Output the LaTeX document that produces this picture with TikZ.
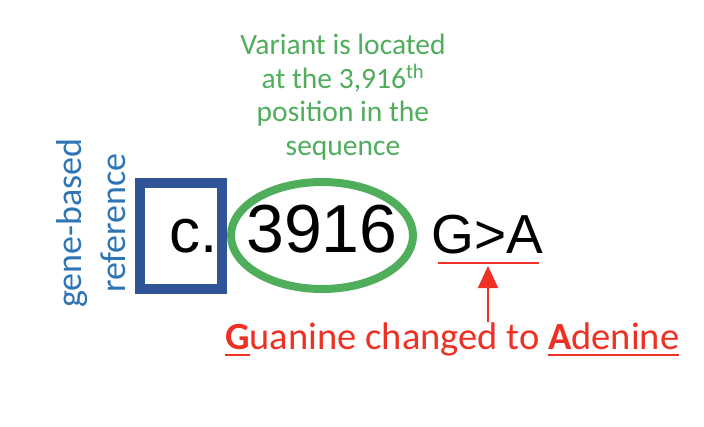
\documentclass[tikz,border=0pt]{standalone}
\usepackage{fontspec}
\setmainfont{Carlito}
\newfontfamily\arialf{Liberation Sans}
\usetikzlibrary{arrows.meta,shapes.geometric}
\definecolor{vgreen}{HTML}{4FAD5B}
\definecolor{refblue}{HTML}{2E75B6}
\definecolor{boxblue}{HTML}{2F5597}
\definecolor{chred}{HTML}{EE3124}
\newcommand\myul[1]{\begingroup\setbox0=\hbox{#1}\rlap{\rule[-7pt]{\wd0}{2.2pt}}\box0\endgroup}
\begin{document}
\begin{tikzpicture}[x=1pt,y=-1pt,
  greentext/.style={text=vgreen, font=\fontsize{29.5}{33.5}\selectfont, align=center, inner sep=0pt},
  bluetext/.style={text=refblue, font=\fontsize{36}{44}\selectfont, align=center, inner sep=0pt, rotate=90},
  bigtext/.style={text=black, inner sep=0pt},
  redtext/.style={text=chred, font=\fontsize{38.5}{44}\selectfont, inner sep=0pt},
  redline/.style={draw=chred, line width=2.6pt}]
\useasboundingbox (0,0) rectangle (704,426);
\node[greentext, anchor=base] (variant) at (343,155) {Variant is located\\at the 3,916\textsuperscript{th}\\position in the\\sequence};
\node[bluetext] (ref) at (91,223) {gene-based\\reference};
\node[draw=boxblue, line width=10pt, minimum width=82pt, minimum height=106pt, inner sep=0pt] (box) at (181,236) {};
\node[bigtext, anchor=base west, font=\arialf\fontsize{62}{70}\selectfont] (c) at (169.5,252) {c.};
\node[ellipse, draw=vgreen, line width=8pt, minimum width=182pt, minimum height=107pt, inner sep=0pt] (ell) at (322,235.5) {};
\node[bigtext, anchor=base, font=\arialf\fontsize{68}{76}\selectfont] (num) at (322,252) {3916};
\node[bigtext, anchor=base, font=\arialf\fontsize{55}{62}\selectfont] (ga) at (487,253) {G>A};
\coordinate (ulL) at (438,263);
\coordinate (ulR) at (539,263);
\draw[redline] (ulL) -- (ulR);
\node[redtext, anchor=base west] (change) at (225,349) {\myul{\textbf{G}}uanine changed to \myul{\textbf{A}denine}};
\coordinate (tail) at (488,322);
\coordinate (tip) at (488,266);
\draw[draw=chred, line width=2pt, -{Triangle[width=20pt,length=22pt]}] (tail) -- (tip);
\end{tikzpicture}
\end{document}
